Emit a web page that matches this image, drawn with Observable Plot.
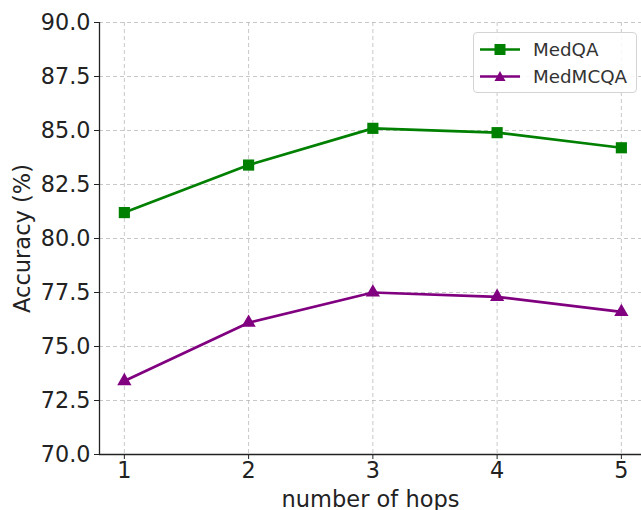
<!DOCTYPE html>
<html>
<head>
<meta charset="utf-8">
<script src="https://cdn.jsdelivr.net/npm/d3@7"></script>
<script src="https://cdn.jsdelivr.net/npm/@observablehq/plot@0.6"></script>
<style>
  body { margin: 0; background: #fff; }
  #wrap { position: relative; width: 641px; height: 510px; font-family: "DejaVu Sans", sans-serif; }
  #legend { position: absolute; left: 473px; top: 32px; width: 164px; height: 61px; border: 1px solid #d4d4d4; border-radius: 4px; background: rgba(255,255,255,0.85); box-sizing: border-box; }
  .row { position: absolute; left: 6px; height: 20px; display: flex; align-items: center; font-size: 18.3px; color: #333; }
  .row svg { margin-right: 13px; }
</style>
</head>
<body>
<div id="wrap"></div>
<script>
const hops = [1, 2, 3, 4, 5];
const medqa = [81.2, 83.4, 85.1, 84.9, 84.2];
const medmcqa = [73.4, 76.1, 77.5, 77.3, 76.6];
const yTicks = [70, 72.5, 75, 77.5, 80, 82.5, 85, 87.5, 90];
const seriesNames = ["MedQA", "MedMCQA"];
const seriesColors = ["green", "purple"];
const seriesSymbols = ["square", "triangle"];
const xLabel = "number of hops";
const yLabel = "Accuracy (%)";

const rows = [];
hops.forEach((h, i) => rows.push({hop: h, acc: medqa[i], s: seriesNames[0]}));
hops.forEach((h, i) => rows.push({hop: h, acc: medmcqa[i], s: seriesNames[1]}));

const grid = {stroke: "#b0b0b0", strokeOpacity: 0.7, strokeDasharray: "4,3", strokeWidth: 1};

const chart = Plot.plot({
  width: 641,
  height: 510,
  marginLeft: 99,
  marginRight: 0,
  marginTop: 22,
  marginBottom: 56,
  style: {fontFamily: "'DejaVu Sans', sans-serif", fontSize: "22px", color: "#222", background: "white"},
  x: {domain: [0.8, 5.162]},
  y: {domain: [70, 90]},
  color: {domain: seriesNames, range: seriesColors},
  symbol: {domain: seriesNames, range: seriesSymbols},
  marks: [
    Plot.ruleY(yTicks.slice(1), {...grid}),
    Plot.ruleX(hops, {...grid}),
    Plot.axisY({ticks: yTicks, tickFormat: d => d.toFixed(1), tickSize: 5, tickPadding: 4, stroke: "#222", label: null, fontSize: 22.3}),
    Plot.axisX({ticks: hops, tickFormat: d => String(d), tickSize: 5, tickPadding: 3, stroke: "#222", label: null, fontSize: 22.3}),
    Plot.text([yLabel], {frameAnchor: "left", dx: -77, rotate: -90, fontSize: 22.5, fill: "#222", textAnchor: "middle"}),
    Plot.text([xLabel], {frameAnchor: "bottom", dy: 52, fontSize: 22.5, fill: "#222", textAnchor: "middle"}),
    Plot.ruleX([0.8], {stroke: "#222", strokeWidth: 1.3}),
    Plot.ruleY([70], {stroke: "#222", strokeWidth: 1.3}),
    Plot.line(rows, {x: "hop", y: "acc", z: "s", stroke: "s", strokeWidth: 2.7}),
    Plot.dot(rows.filter(d => d.s === seriesNames[0]), {x: "hop", y: "acc", fill: "s", symbol: "s", r: 6.3, stroke: null}),
    Plot.dot(rows.filter(d => d.s === seriesNames[1]), {x: "hop", y: "acc", fill: "s", symbol: "s", r: 5.3, stroke: null})
  ]
});

const wrap = document.getElementById("wrap");
wrap.appendChild(chart);

const legend = document.createElement("div");
legend.id = "legend";
seriesNames.forEach((name, i) => {
  const row = document.createElement("div");
  row.className = "row";
  row.style.top = (6 + i * 27) + "px";
  const sym = seriesSymbols[i] === "square"
    ? `<rect x="14.5" y="5" width="11" height="11" fill="${seriesColors[i]}"/>`
    : `<path d="M20,5 L25.5,15 L14.5,15 Z" fill="${seriesColors[i]}"/>`;
  row.innerHTML = `<svg width="40" height="20"><line x1="0" y1="10.5" x2="40" y2="10.5" stroke="${seriesColors[i]}" stroke-width="2.7"/>${sym}</svg><span>${name}</span>`;
  legend.appendChild(row);
});
wrap.appendChild(legend);
</script>
</body>
</html>
